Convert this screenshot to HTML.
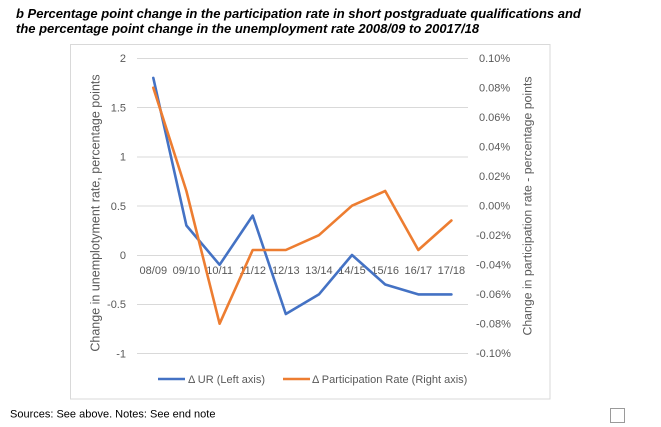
<!DOCTYPE html>
<html>
<head>
<meta charset="utf-8">
<style>
  html, body { margin: 0; padding: 0; background: #ffffff; }
  body { width: 661px; height: 427px; overflow: hidden; }
  svg { display: block; }
  .t { font-family: "Liberation Sans", Arial, sans-serif; }
</style>
</head>
<body>
<svg width="661" height="427" viewBox="0 0 661 427" xmlns="http://www.w3.org/2000/svg">
  <rect x="0" y="0" width="661" height="427" fill="#ffffff"/>
  <!-- Title -->
  <text class="t" x="16" y="18" font-size="13" font-weight="bold" font-style="italic" fill="#000">b Percentage point change in the participation rate in short postgraduate qualifications and</text>
  <text class="t" x="16" y="33" font-size="13" font-weight="bold" font-style="italic" fill="#000">the percentage point change in the unemployment rate 2008/09 to 20017/18</text>

  <!-- Chart border -->
  <rect x="70.5" y="44.5" width="479.5" height="354.5" fill="#fff" stroke="#d9d9d9" stroke-width="1"/>

  <!-- Gridlines -->
  <g stroke="#d9d9d9" stroke-width="1">
    <line x1="137" y1="58.5" x2="468" y2="58.5"/>
    <line x1="137" y1="107.5" x2="468" y2="107.5"/>
    <line x1="137" y1="157" x2="468" y2="157"/>
    <line x1="137" y1="206" x2="468" y2="206"/>
    <line x1="137" y1="255.5" x2="468" y2="255.5"/>
    <line x1="137" y1="304.5" x2="468" y2="304.5"/>
    <line x1="137" y1="353.5" x2="468" y2="353.5"/>
  </g>

  <!-- Left axis labels -->
  <g class="t" font-size="11" fill="#595959" text-anchor="end">
    <text x="126" y="62">2</text>
    <text x="126" y="111.5">1.5</text>
    <text x="126" y="160.5">1</text>
    <text x="126" y="210">0.5</text>
    <text x="126" y="259">0</text>
    <text x="126" y="308">-0.5</text>
    <text x="126" y="357.5">-1</text>
  </g>

  <!-- Right axis labels -->
  <g class="t" font-size="11" fill="#595959">
    <text x="479" y="62">0.10%</text>
    <text x="479" y="91.5">0.08%</text>
    <text x="479" y="121">0.06%</text>
    <text x="479" y="150.5">0.04%</text>
    <text x="479" y="180">0.02%</text>
    <text x="479" y="209.5">0.00%</text>
    <text x="476" y="239">-0.02%</text>
    <text x="476" y="268.5">-0.04%</text>
    <text x="476" y="298">-0.06%</text>
    <text x="476" y="327.5">-0.08%</text>
    <text x="476" y="357">-0.10%</text>
  </g>

  <!-- Axis titles -->
  <text class="t" font-size="12.5" fill="#595959" text-anchor="middle" transform="translate(99.5,213) rotate(-90)">Change in unemplotyment rate, percentage points</text>
  <text class="t" font-size="12.3" fill="#595959" text-anchor="middle" transform="translate(531.5,206) rotate(-90)">Change in participation rate - percentage points</text>

  <!-- Category labels -->
  <g class="t" font-size="11" fill="#595959" text-anchor="middle">
    <text x="153.3" y="274">08/09</text>
    <text x="186.4" y="274">09/10</text>
    <text x="219.6" y="274">10/11</text>
    <text x="252.7" y="274">11/12</text>
    <text x="285.8" y="274">12/13</text>
    <text x="318.9" y="274">13/14</text>
    <text x="352.0" y="274">14/15</text>
    <text x="385.2" y="274">15/16</text>
    <text x="418.3" y="274">16/17</text>
    <text x="451.4" y="274">17/18</text>
  </g>

  <!-- Series -->
  <polyline fill="none" stroke="#4472C4" stroke-width="2.6" stroke-linejoin="round" stroke-linecap="round"
    points="153.3,77.9 186.4,225.5 219.6,264.8 252.7,215.6 285.8,314.0 318.9,294.4 352.0,255.0 385.2,284.5 418.3,294.4 451.4,294.4"/>
  <polyline fill="none" stroke="#ED7D31" stroke-width="2.6" stroke-linejoin="round" stroke-linecap="round"
    points="153.3,87.7 186.4,191.0 219.6,323.7 252.7,250.0 285.8,250.0 318.9,235.2 352.0,205.7 385.2,191.0 418.3,250.0 451.4,220.5"/>

  <!-- Legend -->
  <line x1="158" y1="379" x2="185" y2="379" stroke="#4472C4" stroke-width="2.6"/>
  <text class="t" x="188" y="383" font-size="11" fill="#595959">Δ UR (Left axis)</text>
  <line x1="283" y1="379" x2="310" y2="379" stroke="#ED7D31" stroke-width="2.6"/>
  <text class="t" x="312" y="383" font-size="11" fill="#595959">Δ Participation Rate (Right axis)</text>

  <!-- Footnote -->
  <text class="t" x="10" y="417.5" font-size="11" fill="#000">Sources: See above. Notes: See end note</text>

  <!-- Checkbox -->
  <rect x="610.5" y="408.5" width="14" height="14" fill="#fff" stroke="#9a9a9a" stroke-width="1"/>
</svg>
</body>
</html>
